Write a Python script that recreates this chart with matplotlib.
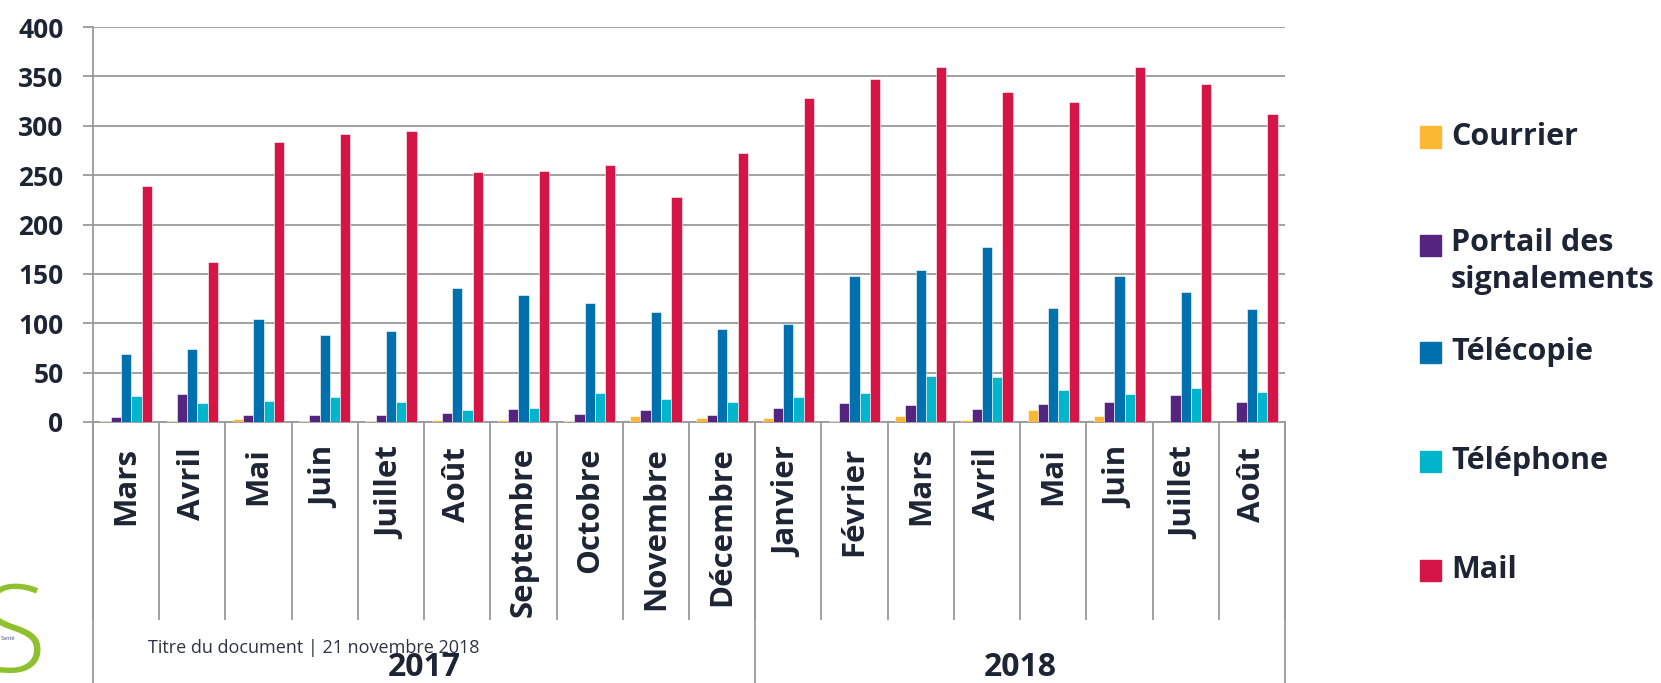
import matplotlib
matplotlib.use('Agg')
from matplotlib import pyplot as plt
from matplotlib.patches import Rectangle
import numpy as np

months = ['Mars', 'Avril', 'Mai', 'Juin', 'Juillet', 'Août', 'Septembre', 'Octobre',
          'Novembre', 'Décembre', 'Janvier', 'Février', 'Mars', 'Avril', 'Mai', 'Juin',
          'Juillet', 'Août']
years = ['2017', '2018']
year_sizes = [10, 8]

courrier = [1, 1, 3, 1, 1, 2, 2, 1, 6, 4, 4, 1, 6, 2, 12, 6, 0, 0]
portail = [5, 28, 7, 7, 7, 9, 13, 8, 12, 7, 14, 19, 17, 13, 18, 20, 27, 20]
telecopie = [69, 74, 104, 88, 92, 136, 129, 121, 111, 94, 99, 148, 154, 177, 115, 148, 132, 114]
telephone = [26, 19, 21, 25, 20, 12, 14, 29, 23, 20, 25, 29, 47, 46, 32, 28, 34, 30]
mail = [239, 162, 284, 292, 295, 253, 254, 260, 228, 272, 328, 347, 359, 334, 324, 359, 342, 312]

series = [('Courrier', courrier, '#FBB933'),
          ('Portail des\nsignalements', portail, '#54247F'),
          ('Télécopie', telecopie, '#0070AE'),
          ('Téléphone', telephone, '#00B5CC'),
          ('Mail', mail, '#D41546')]

plt.rcParams['font.family'] = ['Open Sans', 'DejaVu Sans']
text_col = '#1d2535'
line_col = '#9a9a9a'

W, H = 1661, 683
fig = plt.figure(figsize=(W / 100, H / 100), dpi=100)
ax = fig.add_axes([93 / W, 1 - 422 / H, (1285 - 93) / W, 395 / H])

x = np.arange(len(months))
bw = 0.155
for k, (name, vals, col) in enumerate(series):
    ax.bar(x + (k - 2) * bw, vals, bw, color=col, edgecolor='#ffffff', linewidth=0.4,
           label=name, zorder=3)

ax.set_xlim(-0.5, len(months) - 0.5)
ax.set_ylim(0, 400)
ax.set_yticks(range(0, 401, 50))
ax.yaxis.grid(True, color=line_col, linewidth=1.3, zorder=0)
ax.tick_params(axis='y', direction='out', length=7.2, width=1.3, color=line_col,
               pad=14, labelsize=19, labelcolor=text_col)
for lab in ax.get_yticklabels():
    lab.set_fontweight('bold')

for s in ['top', 'right']:
    ax.spines[s].set_visible(False)
for s in ['left', 'bottom']:
    ax.spines[s].set_color(line_col)
    ax.spines[s].set_linewidth(1.3)

# category separators as long major ticks, month names as minor tick labels
ax.set_xticks(np.arange(-0.5, len(months), 1))
ax.set_xticklabels([])
ax.tick_params(axis='x', which='major', direction='out', length=142.6, width=1.3,
               color=line_col)
ax.set_xticks(x, minor=True)
ax.set_xticklabels(months, minor=True, rotation=90, fontsize=22.5, fontweight='bold',
                   color=text_col)
ax.tick_params(axis='x', which='minor', length=0, pad=18)

# year groups
trans = matplotlib.transforms.blended_transform_factory(ax.transData, ax.transAxes)
edges = np.concatenate([[0], np.cumsum(year_sizes)]) - 0.5
for e in edges:
    ax.plot([e, e], [0, -261 / 395], color=line_col, linewidth=1.3, transform=trans,
            clip_on=False)
for i, yr in enumerate(years):
    ax.text((edges[i] + edges[i + 1]) / 2, -246 / 395, yr, transform=trans, ha='center',
            va='center', fontsize=23, fontweight='bold', color=text_col)

# legend drawn by hand to keep the uneven spacing of the original
ys = [137, 245, 352, 461, 570]
for (name, vals, col), yc in zip(series, ys):
    fig.patches.append(Rectangle((1420 / W, 1 - (yc + 10.5) / H), 21 / W, 21 / H,
                                 transform=fig.transFigure, color=col))
    if '\n' in name:
        fig.text(1451 / W, 1 - (yc - 17) / H, name, ha='left', va='top', fontsize=22,
                 fontweight='bold', color=text_col, linespacing=1.3)
    else:
        fig.text(1451 / W, 1 - yc / H, name, ha='left', va='center', fontsize=22,
                 fontweight='bold', color=text_col)

# footer and logo
fig.text(148 / W, 1 - 648 / H, 'Titre du document | 21 novembre 2018', ha='left',
         va='center', fontsize=13, color='#2b3445')
fig.text(46 / W, 1 - 640 / H, 'S', ha='right', va='center', fontsize=88,
         fontweight='light', color='#8fc12e')
fig.text(0.5 / W, 1 - 638 / H, 'Santé', ha='left', va='center', fontsize=4,
         color='#3a4a7a')

plt.savefig('out.png', dpi=100)
plt.close()
